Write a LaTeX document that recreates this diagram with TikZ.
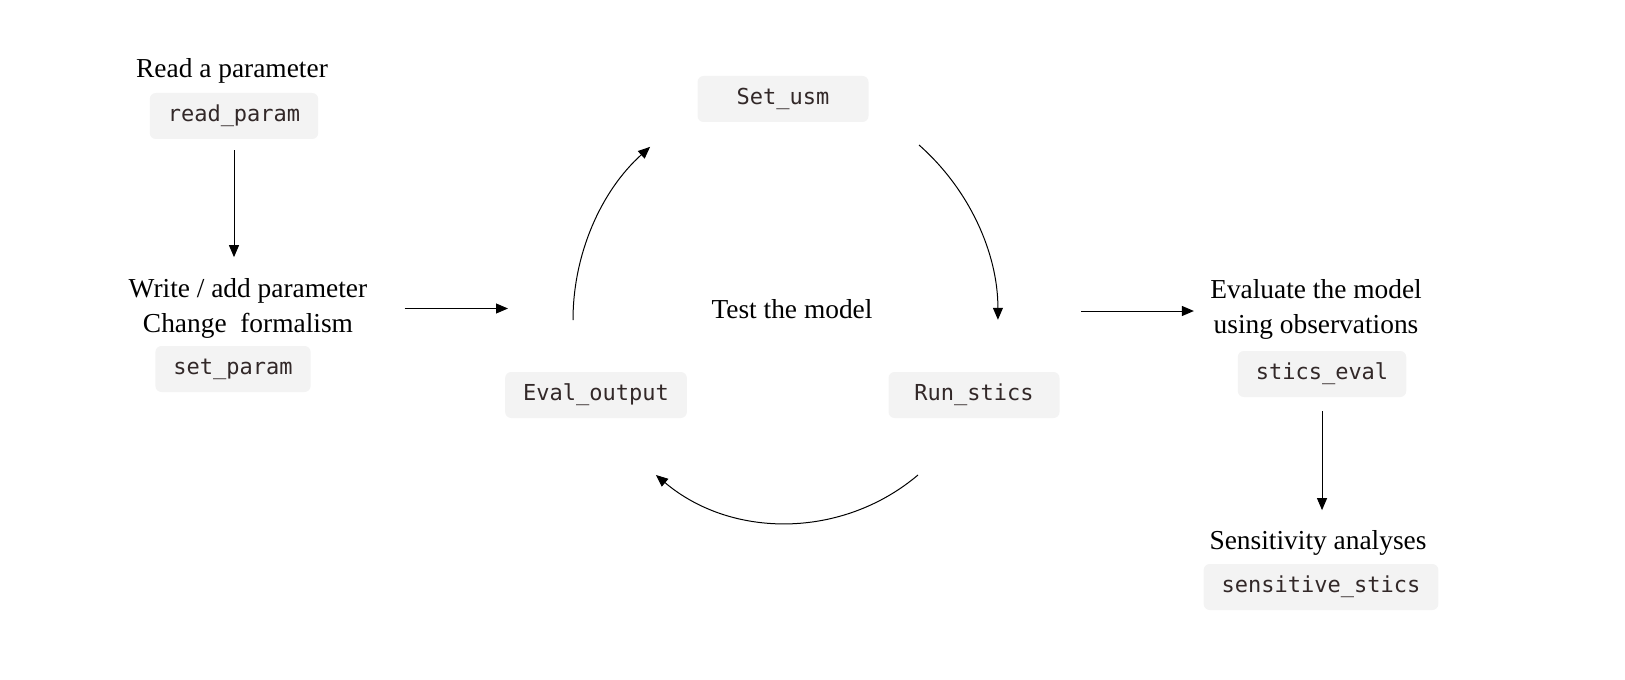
\documentclass[tikz,border=0pt]{standalone}
\usepackage{fontspec}
\setmainfont{Liberation Serif}
\setmonofont{DejaVu Sans Mono}
\usetikzlibrary{arrows.meta}
\definecolor{boxgray}{RGB}{243,243,243}
\definecolor{codetext}{RGB}{50,40,40}
\begin{document}
\begin{tikzpicture}[x=0.5pt,y=-0.5pt]
\tikzstyle{lbl}=[
	align=center,
	inner sep=0pt,
	font=\fontsize{13.7}{17.5}\selectfont ]
\tikzstyle{codebox}=[
	fill=boxgray,
	rounded corners=3pt,
	text=codetext,
	inner xsep=9pt,
	minimum height=23pt,
	font=\ttfamily\fontsize{11}{13}\selectfont ]
\tikzstyle{cyclebox}=[codebox, minimum width=85.5pt]
\tikzstyle{arr}=[-{Triangle[width=5pt,length=6pt]}, line width=0.5pt]
\useasboundingbox (0,0) rectangle (1625,679);
% left column
\node[lbl] (readtxt) at (232,71) {Read a parameter};
\node[codebox] (readbox) at (234,116) {read\_param};
\node[lbl] (writetxt) at (248,308.5) {Write / add parameter\\Change\ \ formalism};
\node[codebox] (setbox) at (233,369) {set\_param};
\draw[arr, shorten <=5.5pt, shorten >=10.5pt] (readbox) -- (readbox |- writetxt.north);
% cycle
\node[cyclebox] (usm) at (783,99) {Set\_usm};
\node[cyclebox] (evalout) at (596,395) {Eval\_output};
\node[cyclebox] (runstics) at (974,395) {Run\_stics};
\node[lbl] (testtxt) at (792,309) {Test the model};
\coordinate (cyclein) at (508,308.5);
\coordinate (cycleout) at (1081,311);
\coordinate (evalup) at (573,320);
\coordinate (usmdown) at (919,145);
\coordinate (runback) at (918,475);
\draw[arr, shorten <=18.5pt] (writetxt) -- (cyclein);
\draw[arr] (evalup) arc[start angle=-180, end angle=-132, radius=233];
\draw[arr] (usmdown) arc[start angle=-48.6, end angle=0, radius=233];
\draw[arr] (runback) arc[start angle=49.8, end angle=130.2, radius=203];
% right column
\node[lbl] (evaltxt) at (1316,309.5) {Evaluate the model\\using observations};
\node[codebox] (evalbox) at (1322,374) {stics\_eval};
\node[lbl] (senstxt) at (1318,543) {Sensitivity analyses};
\node[codebox] (sensbox) at (1321,587) {sensitive\_stics};
\draw[arr, shorten >=8pt] (cycleout) -- (cycleout -| evaltxt.west);
\draw[arr, shorten <=7pt, shorten >=10pt] (evalbox) -- (evalbox |- senstxt.north);
\end{tikzpicture}
\end{document}
